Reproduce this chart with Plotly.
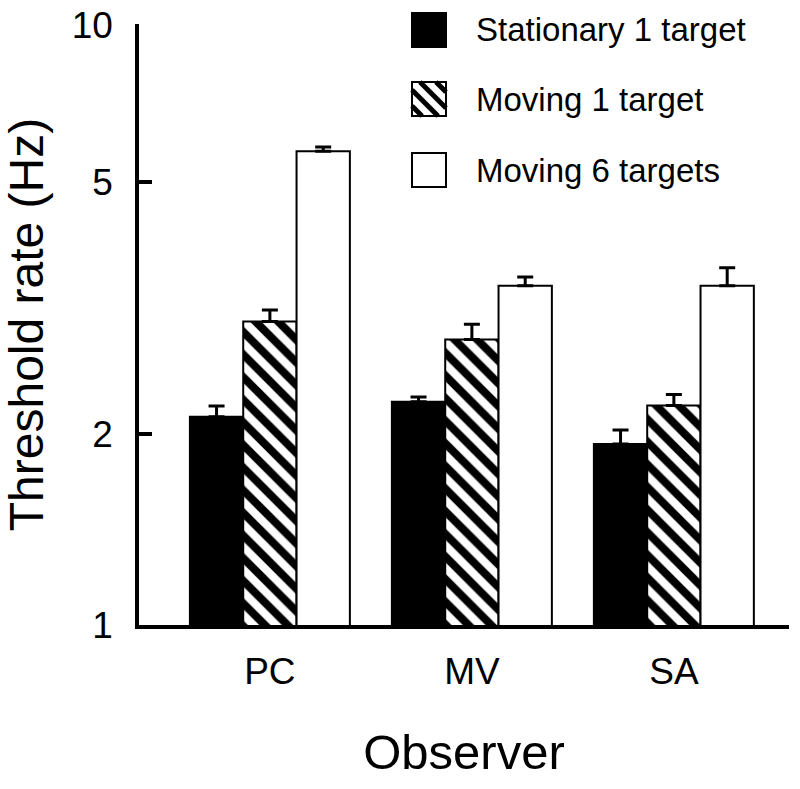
import plotly.graph_objects as go

observers = ["PC", "MV", "SA"]
series_names = ["Stationary 1 target", "Moving 1 target", "Moving 6 targets"]
stationary = [2.13, 2.25, 1.93]
stationary_err = [0.085, 0.04, 0.10]
moving1 = [3.01, 2.82, 2.22]
moving1_err = [0.13, 0.16, 0.09]
moving6 = [5.59, 3.43, 3.43]
moving6_err = [0.085, 0.11, 0.23]
tick_labels = ["1", "2", "5", "10"]

FONT = "Liberation Sans, Arial, Helvetica, sans-serif"

W, H = 800, 789
# plot area in window pixels
L, R, T, B = 139, 789, 24, 625
TOP_LOG = 0.948


def px_x(p):
    return (p - L) / (R - L)


def px_y(p):
    return (B - p) / (B - T)


def err_bar(vals):
    return dict(type="data", array=vals, arrayminus=[0] * len(vals), symmetric=False,
                color="black", thickness=3, width=8, visible=True)


fig = go.Figure()
fig.add_bar(x=observers, y=stationary, name=series_names[0],
            marker=dict(color="black", line=dict(color="black", width=2)),
            error_y=err_bar(stationary_err))
fig.add_bar(x=observers, y=moving1, name=series_names[1],
            marker=dict(color="white", line=dict(color="black", width=2),
                        pattern=dict(shape="\\", fgcolor="black", bgcolor="white",
                                     size=16, solidity=0.5, fillmode="replace")),
            error_y=err_bar(moving1_err))
fig.add_bar(x=observers, y=moving6, name=series_names[2],
            marker=dict(color="white", line=dict(color="black", width=2)),
            error_y=err_bar(moving6_err))

# manual legend (large swatches as in the reference)
shapes = []
annotations = []
sw_x0, sw_x1 = 412, 446
rows = [(13, 47), (82, 116), (153, 187)]
for i, (y0, y1) in enumerate(rows):
    fill = "black" if i == 0 else "white"
    shapes.append(dict(type="rect", xref="paper", yref="paper",
                       x0=px_x(sw_x0), x1=px_x(sw_x1), y0=px_y(y1), y1=px_y(y0),
                       fillcolor=fill, line=dict(color="black", width=2), layer="above"))
    if i == 1:
        s = sw_x1 - sw_x0
        for c in [-24, -8, 8, 24]:
            a0 = max(0, -c)
            a1 = min(s, s - c)
            shapes.append(dict(type="line", xref="paper", yref="paper",
                               x0=px_x(sw_x0 + a0), y0=px_y(y0 + a0 + c),
                               x1=px_x(sw_x0 + a1), y1=px_y(y0 + a1 + c),
                               line=dict(color="black", width=5), layer="above"))
    annotations.append(dict(xref="paper", yref="paper", x=px_x(474), y=px_y((y0 + y1) / 2),
                            xanchor="left", yanchor="middle", showarrow=False,
                            text=series_names[i], font=dict(family=FONT, size=33, color="black")))

fig.update_layout(
    width=W, height=H,
    margin=dict(l=L, r=W - R, t=T, b=H - B, autoexpand=False),
    paper_bgcolor="white", plot_bgcolor="white",
    barmode="group", bargap=0.208, bargroupgap=0,
    showlegend=False,
    font=dict(family=FONT, color="black"),
    shapes=shapes, annotations=annotations,
    xaxis=dict(range=[-0.648, 2.57], showline=True, linecolor="black", linewidth=3.5,
               ticks="", showgrid=False, zeroline=False,
               tickfont=dict(family=FONT, size=37, color="black"),
               ticklabelstandoff=11,
               title=dict(text="Observer", font=dict(family=FONT, size=49, color="black"), standoff=45)),
    yaxis=dict(type="log", range=[0, TOP_LOG], showline=True, linecolor="black", linewidth=3.5,
               ticks="inside", ticklen=13, tickwidth=3.5, tickcolor="black",
               tickvals=[1, 2, 5, 10 ** (TOP_LOG - 0.001)], ticktext=tick_labels,
               ticklabeloverflow="allow",
               showgrid=False, zeroline=False,
               tickfont=dict(family=FONT, size=37, color="black"),
               ticklabelstandoff=15,
               title=dict(text="Threshold rate (Hz)", font=dict(family=FONT, size=48, color="black"), standoff=22)),
)

fig.write_html("out.html",
               config={"displayModeBar": False},
               post_script="document.body.style.margin='0';document.body.style.overflow='hidden';")
